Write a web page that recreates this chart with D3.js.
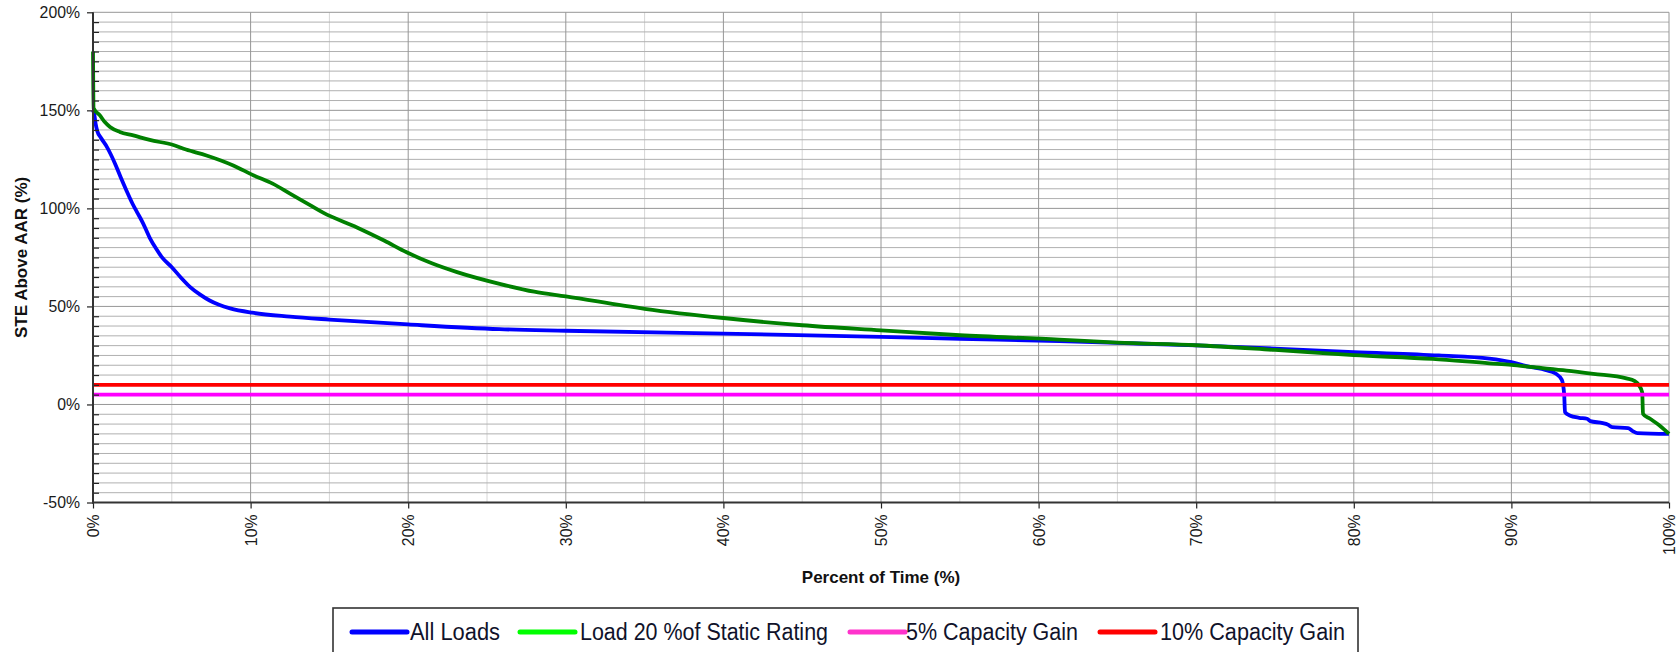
<!DOCTYPE html>
<html>
<head>
<meta charset="utf-8">
<script src="https://cdn.jsdelivr.net/npm/d3@7"></script>
<style>
  html, body { margin: 0; padding: 0; background: #fff; }
  svg { display: block; }
  text { font-family: "Liberation Sans", Arial, sans-serif; }
</style>
</head>
<body>
<svg id="chart" width="1679" height="652"></svg>
<script>
// ---------------- data ----------------
const xTickValues = [0, 10, 20, 30, 40, 50, 60, 70, 80, 90, 100];
const yTickValues = [-50, 0, 50, 100, 150, 200];
const xTitle = "Percent of Time (%)";
const yTitle = "STE Above AAR (%)";
const seriesNames = ["All Loads", "Load 20 %of Static Rating", "5% Capacity Gain", "10% Capacity Gain"];

// [percent of time, STE above AAR %]
const allLoads = [
  [0,150],[0.08,148],[0.17,143],[0.27,139.5],[0.5,136],[0.87,131.5],[1.1,128],[1.4,122.8],
  [1.75,116],[2.1,109.5],[2.5,102.5],[2.8,98],[3.17,92.5],[3.6,85],[4.0,79.5],[4.38,75],
  [5.0,70],[5.6,64.5],[6.15,60],[6.8,56],[7.4,53],[8.0,50.8],[8.7,49],[10.1,46.8],
  [12.5,44.8],[15,43.3],[20,40.8],[25.8,38.4],[30,37.6],[40,36.1],[50,34.5],[55,33.5],
  [61.3,32.3],[65,31.4],[70,30.1],[75,28.5],[80,26.7],[85.4,25],[88.6,23.4],[90,21.6],
  [91.1,19.3],[92.2,17.5],[92.8,15.8],[93.2,12.5],[93.35,5],[93.4,-3.9],[93.7,-5.6],
  [94.3,-6.8],[94.8,-7.3],[95.0,-8.5],[95.8,-9.5],[96.1,-10.2],[96.4,-11.6],[97.4,-12.1],
  [97.7,-13.6],[98.0,-14.6],[100,-15]
];
const load20 = [
  [0,180],[0.04,151],[0.44,147.4],[0.75,144],[1.08,141.5],[1.7,139],[2.56,137.2],[3.6,134.9],
  [5.1,132.3],[5.9,130],[7.2,127],[8.9,121.9],[10.2,116.8],[11.4,112.6],[12.5,107.5],
  [13.8,101.5],[14.6,97.8],[16.75,90.3],[18.5,83.5],[19.9,77.6],[21.5,72],[23.1,67.5],
  [25.8,61.5],[28,57.5],[30,55.1],[35,48.8],[40,44.1],[45,40.4],[50,37.8],[55,35.3],
  [61.3,33.1],[65,31.5],[70,30.2],[75,27.8],[80,25.2],[85,23.2],[88.6,21],[90,20.2],
  [91.4,19],[93.5,17.3],[95.2,15.6],[97.3,13.3],[97.8,12],[98.1,9.7],[98.3,6.2],
  [98.35,-4.8],[98.8,-7.3],[99.4,-10.7],[100,-15]
];
const gain5 = [[0,5],[100,5]];
const gain10 = [[0,10],[100,10]];

// ---------------- layout ----------------
const svg = d3.select("#chart");
const pLeft = 93, pRight = 1669, pTop = 12.3, pBottom = 502.5;
const x = d3.scaleLinear().domain([0, 100]).range([pLeft, pRight]);
const y = d3.scaleLinear().domain([-50, 200]).range([pBottom, pTop]);

const minorX = d3.range(0, 101, 5).filter(v => v % 10 !== 0);
const minorY = d3.range(-50, 201, 5).filter(v => v % 50 !== 0);

// gridlines
const grid = svg.append("g");
grid.selectAll(".vmin").data(minorX).join("line")
  .attr("x1", d => x(d)).attr("x2", d => x(d)).attr("y1", pTop).attr("y2", pBottom)
  .attr("stroke", "#d6d6d6").attr("stroke-width", 1);
grid.selectAll(".hmin").data(minorY).join("line")
  .attr("x1", pLeft).attr("x2", pRight).attr("y1", d => y(d)).attr("y2", d => y(d))
  .attr("stroke", "#b0b0b0").attr("stroke-width", 1);
grid.selectAll(".vmaj").data(xTickValues.filter(v => v > 0)).join("line")
  .attr("x1", d => x(d)).attr("x2", d => x(d)).attr("y1", pTop).attr("y2", pBottom)
  .attr("stroke", "#969696").attr("stroke-width", 1);
grid.selectAll(".hmaj").data(yTickValues.filter(v => v > -50)).join("line")
  .attr("x1", pLeft).attr("x2", pRight).attr("y1", d => y(d)).attr("y2", d => y(d))
  .attr("stroke", "#969696").attr("stroke-width", 1);

// series
const line = d3.line().x(d => x(d[0])).y(d => y(d[1])).curve(d3.curveMonotoneX);
const series = [
  {data: allLoads, color: "#0000ff"},
  {data: load20, color: "#008000"},
  {data: gain5, color: "#ff00ff"},
  {data: gain10, color: "#ff0000"}
];
svg.append("g").selectAll("path").data(series).join("path")
  .attr("d", d => line(d.data))
  .attr("fill", "none")
  .attr("stroke", d => d.color)
  .attr("stroke-width", 3.8)
  .attr("stroke-linejoin", "round");

// axes
const yAxis = svg.append("g").attr("transform", `translate(${pLeft},0)`)
  .call(d3.axisLeft(y).tickValues(yTickValues).tickSize(6).tickPadding(7)
    .tickFormat(d => d + "%"));
const yMinor = svg.append("g").attr("transform", `translate(${pLeft},0)`)
  .call(d3.axisLeft(y).tickValues(minorY).tickSize(-6).tickFormat(""));
const xAxis = svg.append("g").attr("transform", `translate(0,${pBottom})`)
  .call(d3.axisBottom(x).tickValues(xTickValues).tickSize(6).tickFormat(d => d + "%"));

[yAxis, yMinor, xAxis].forEach(g => {
  g.select(".domain").remove();
  g.selectAll(".tick line").attr("stroke", "#222").attr("stroke-width", 1.2);
});
yAxis.selectAll("text").attr("font-size", 15.8).attr("fill", "#1a1a1a")
  .attr("font-family", "Liberation Sans, Arial, sans-serif");
xAxis.selectAll("text")
  .attr("font-size", 15.8).attr("fill", "#1a1a1a")
  .attr("font-family", "Liberation Sans, Arial, sans-serif")
  .attr("text-anchor", "end")
  .attr("transform", "rotate(-90)")
  .attr("x", -12).attr("y", 0).attr("dy", "0.35em");

// axis lines
svg.append("line").attr("x1", pLeft).attr("x2", pLeft).attr("y1", pTop).attr("y2", pBottom + 1)
  .attr("stroke", "#333").attr("stroke-width", 2);
svg.append("line").attr("x1", pLeft - 1).attr("x2", pRight).attr("y1", pBottom).attr("y2", pBottom)
  .attr("stroke", "#333").attr("stroke-width", 2);

// titles
svg.append("text").attr("x", (pLeft + pRight) / 2).attr("y", 583)
  .attr("text-anchor", "middle").attr("font-weight", "bold").attr("font-size", 17)
  .attr("fill", "#111").text(xTitle);
svg.append("text").attr("transform", `translate(27,${(pTop + pBottom) / 2}) rotate(-90)`)
  .attr("text-anchor", "middle").attr("font-weight", "bold").attr("font-size", 17)
  .attr("fill", "#111").text(yTitle);

// legend
const legend = svg.append("g");
legend.append("rect").attr("x", 333).attr("y", 608).attr("width", 1025).attr("height", 70)
  .attr("fill", "#fff").attr("stroke", "#333").attr("stroke-width", 1.6);
const legendColors = ["#0000ff", "#00ff00", "#ff33cc", "#ff0000"];
const legendLineX = [352, 520, 850, 1100];
const legendTextX = [410, 580, 906, 1160];
const legendTextW = [90, 248, 172, 185];
const items = legend.selectAll("g.item").data(seriesNames).join("g").attr("class", "item");
items.append("line")
  .attr("x1", (d, i) => legendLineX[i]).attr("x2", (d, i) => legendLineX[i] + 55)
  .attr("y1", 632).attr("y2", 632)
  .attr("stroke", (d, i) => legendColors[i]).attr("stroke-width", 5)
  .attr("stroke-linecap", "round");
items.append("text")
  .attr("x", (d, i) => legendTextX[i]).attr("y", 640)
  .attr("font-size", 23).attr("fill", "#10122a")
  .attr("font-family", "'Liberation Sans Narrow', 'Arial Narrow', 'Liberation Sans', sans-serif")
  .attr("textLength", (d, i) => legendTextW[i])
  .attr("lengthAdjust", "spacingAndGlyphs")
  .text(d => d);
</script>
</body>
</html>
